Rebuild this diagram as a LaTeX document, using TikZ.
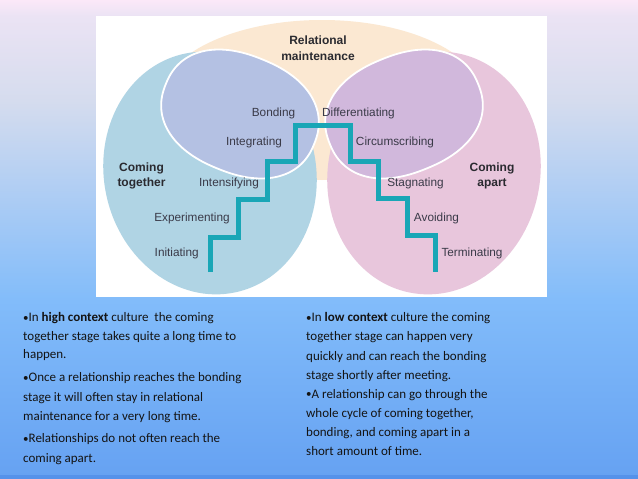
\documentclass[tikz,border=0pt]{standalone}
\usepackage{fontspec}
\setmainfont{Liberation Sans}
\newfontfamily\bodyfont{Carlito}
\definecolor{bgA}{HTML}{FBE8F8}
\definecolor{bgB}{HTML}{EBE3F4}
\definecolor{bgC}{HTML}{D5DCEE}
\definecolor{bgD}{HTML}{82BCFA}
\definecolor{bgE}{HTML}{66A2F2}
\definecolor{bgF}{HTML}{5592EA}
\definecolor{peach}{HTML}{FBE8D2}
\definecolor{blueell}{HTML}{B0D4E4}
\definecolor{pinkell}{HTML}{E8C6DC}
\definecolor{lefteye}{HTML}{B4C1E3}
\definecolor{righteye}{HTML}{D1B8DC}
\definecolor{stairteal}{HTML}{19A6B6}
\definecolor{labelgray}{HTML}{3A3A48}
\definecolor{headgray}{HTML}{2A2A30}
\newcommand{\smallbullet}{\raisebox{0.6pt}{\fontsize{11}{10}\selectfont •}}
\begin{document}
\begin{tikzpicture}[x=1pt,y=-1pt,
  declare function={supc(\t)=(cos(\t)<0?-1:1)*pow(abs(cos(\t)),0.88);
                    sups(\t)=(sin(\t)<0?-1:1)*pow(abs(sin(\t)),0.88);},
  stagelabel/.style={font=\fontsize{11.8}{14}\selectfont, text=labelgray, inner sep=0pt, anchor=base},
  heading/.style={font=\bfseries\fontsize{12}{15}\selectfont, text=headgray, inner sep=0pt, anchor=base},
  bodyline/.style={font=\bodyfont\fontsize{13}{16}\selectfont, text=black!92, inner sep=0pt, anchor=base west},
  oval/.style={draw=white, line width=1.8pt},
  stairs/.style={draw=stairteal, line width=5pt, line join=miter}]
\useasboundingbox (0,0) rectangle (638,479);
% background gradient
\shade[top color=bgA, bottom color=bgB] (0,0) rectangle (638,16.5);
\shade[top color=bgB, bottom color=bgC] (0,16) rectangle (638,100.5);
\shade[top color=bgC, bottom color=bgD] (0,100) rectangle (638,300.5);
\shade[top color=bgD, bottom color=bgE] (0,300) rectangle (638,475.5);
\fill[bgF] (0,475) rectangle (638,479);
% white panel
\fill[white] (96,16) rectangle (547,297);
% relational maintenance ellipse
\fill[peach] (322,100) ellipse [x radius=162, y radius=80];
% big ellipses
\fill[blueell, rotate around={12:(210,173)}] (210,173) ellipse [x radius=106, y radius=122];
\fill[pinkell, rotate around={-12:(434,173)}] (434,173) ellipse [x radius=106, y radius=122];
% ovals (slightly squarish, tilted)
\filldraw[fill=lefteye, oval] plot[domain=0.5:360.5, samples=145, smooth]
  ({240 + 80*supc(\x)*cos(22) - 59*sups(\x)*sin(22)}, {114 + 80*supc(\x)*sin(22) + 59*sups(\x)*cos(22)}) -- cycle;
\filldraw[fill=righteye, oval] plot[domain=0.5:360.5, samples=145, smooth]
  ({404 - 80*supc(\x)*cos(22) + 59*sups(\x)*sin(22)}, {114 + 80*supc(\x)*sin(22) + 59*sups(\x)*cos(22)}) -- cycle;
% staircase
\draw[stairs] (210,272) -- (210,237.5) -- (238.5,237.5) -- (238.5,199.5) -- (267,199.5) -- (267,161.7) -- (295,161.7) -- (295,125) -- (350,125) -- (350,161.7) -- (378.5,161.7) -- (378.5,198.5) -- (407,198.5) -- (407,235.5) -- (435,235.5) -- (435,272);
% headings
\node[heading] (rm1) at (318,45) {Relational};
\node[heading] (rm2) at (318,60) {maintenance};
\node[heading] (ct1) at (141.5,171) {Coming};
\node[heading] (ct2) at (141.5,186.7) {together};
\node[heading] (ca1) at (492,171) {Coming};
\node[heading] (ca2) at (492,186.7) {apart};
% stage labels
\node[stagelabel] (bond) at (273.5,116) {Bonding};
\node[stagelabel] (diff) at (358.5,116) {Differentiating};
\node[stagelabel] (integ) at (254,145.3) {Integrating};
\node[stagelabel] (circ) at (395,145.3) {Circumscribing};
\node[stagelabel] (inten) at (229,186.7) {Intensifying};
\node[stagelabel] (stag) at (415.5,186.7) {Stagnating};
\node[stagelabel] (exper) at (192,221) {Experimenting};
\node[stagelabel] (avoid) at (436.5,221) {Avoiding};
\node[stagelabel] (init) at (176.7,256.7) {Initiating};
\node[stagelabel] (term) at (472,256.7) {Terminating};
% bottom text, left column
\node[bodyline] (l1) at (23,321.7) {\smallbullet In \textbf{high context} culture\ \ the coming};
\node[bodyline] (l2) at (23,340) {together stage takes quite a long time to};
\node[bodyline] (l3) at (23,358.3) {happen.};
\node[bodyline] (l4) at (23,381.7) {\smallbullet Once a relationship reaches the bonding};
\node[bodyline] (l5) at (23,401) {stage it will often stay in relational};
\node[bodyline] (l6) at (23,420.7) {maintenance for a very long time.};
\node[bodyline] (l7) at (23,442.7) {\smallbullet Relationships do not often reach the};
\node[bodyline] (l8) at (23,462.7) {coming apart.};
% bottom text, right column
\node[bodyline] (r1) at (306,321.7) {\smallbullet In \textbf{low context} culture the coming};
\node[bodyline] (r2) at (306,340.7) {together stage can happen very};
\node[bodyline] (r3) at (306,360) {quickly and can reach the bonding};
\node[bodyline] (r4) at (306,379) {stage shortly after meeting.};
\node[bodyline] (r5) at (306,398.3) {\smallbullet A relationship can go through the};
\node[bodyline] (r6) at (306,417.7) {whole cycle of coming together,};
\node[bodyline] (r7) at (306,436.7) {bonding, and coming apart in a};
\node[bodyline] (r8) at (306,455.7) {short amount of time.};
\end{tikzpicture}
\end{document}
